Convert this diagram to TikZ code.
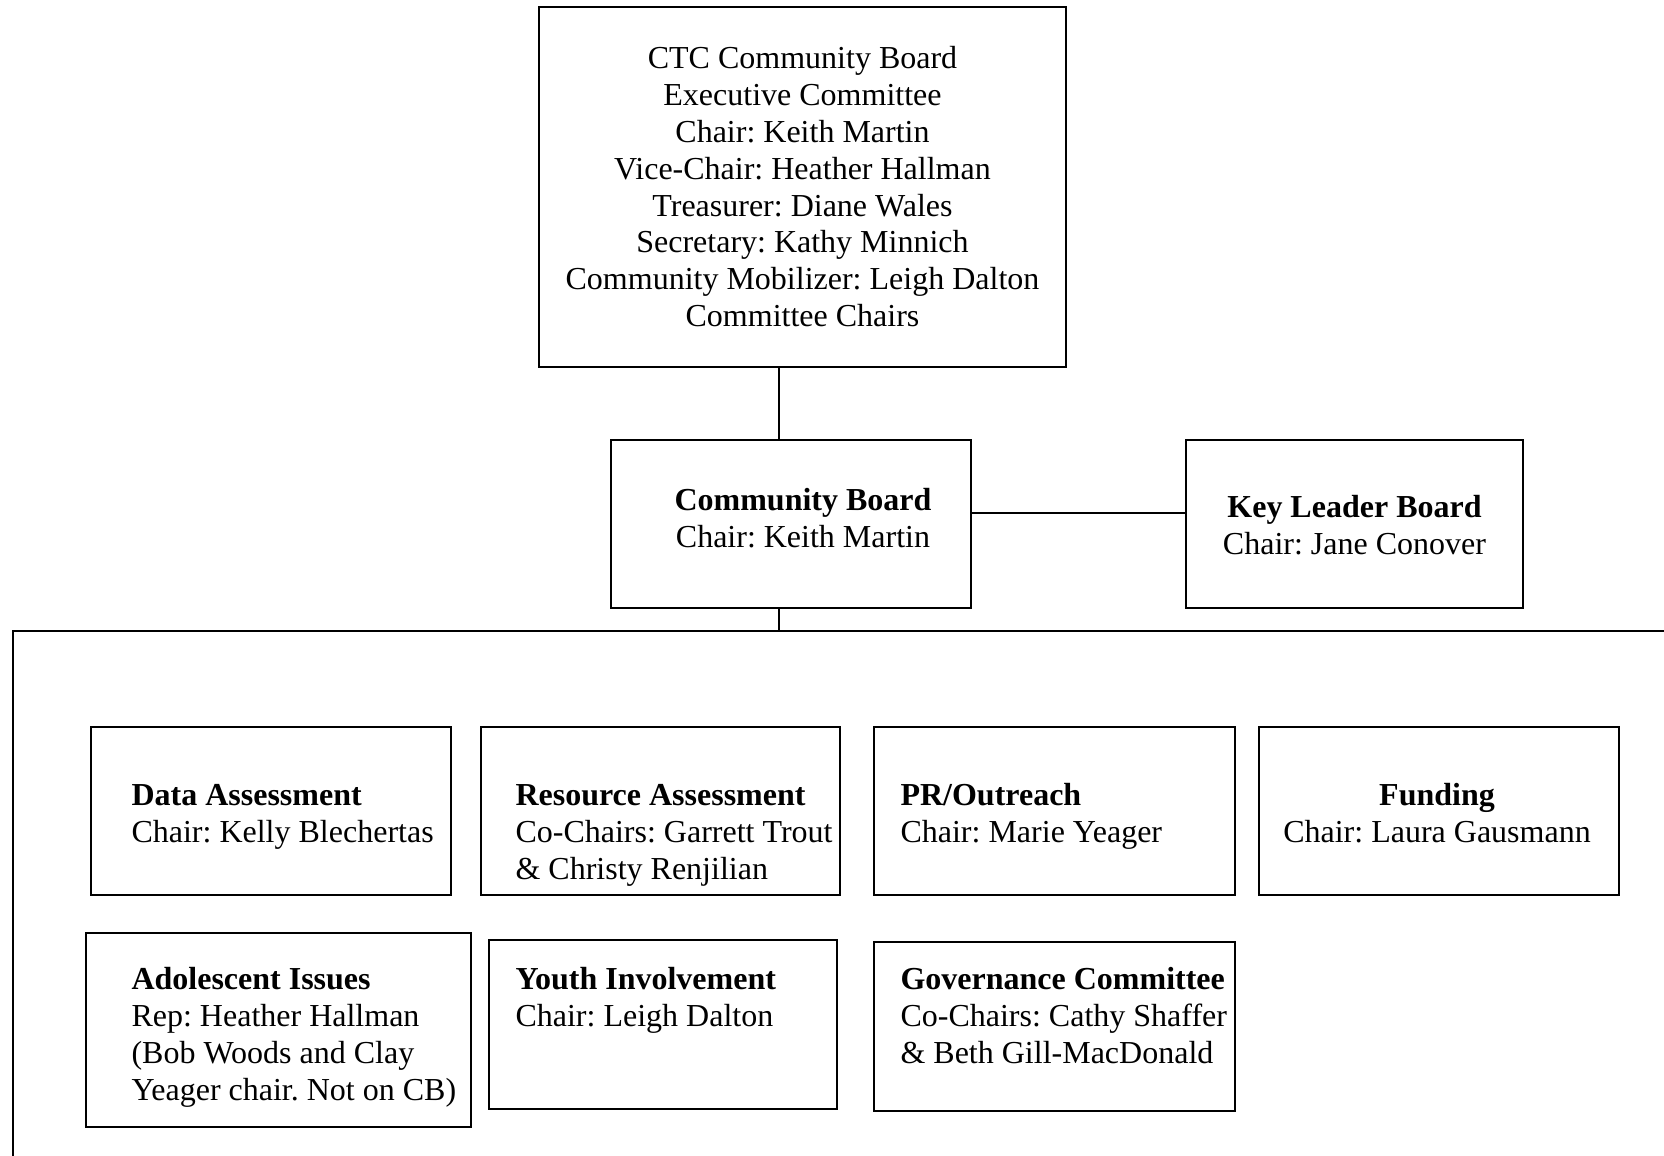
\documentclass[tikz,border=0pt]{standalone}
\usepackage{fontspec}
\setmainfont{Liberation Serif}
\frenchspacing
\begin{document}
\begin{tikzpicture}[x=0.375pt, y=-0.375pt,
  box/.style={draw, line width=0.8pt, inner sep=0pt, rectangle},
  txt/.style={inner sep=0pt, font=\fontsize{12pt}{13.8pt}\selectfont},
  txtl/.style={txt, anchor=north west, align=left},
  txtc/.style={txt, anchor=north, align=center},
  link/.style={line width=0.8pt}]
\useasboundingbox (0,0) rectangle (1664,1155);
\clip (0,0) rectangle (1664,1155);

% outer frame (runs off the right and bottom edges)
\node[box, anchor=north west, minimum width={1700*0.375pt}, minimum height={600*0.375pt}] (frame) at (12,630) {};

% boxes
\node[box, minimum width={527*0.375pt}, minimum height={360*0.375pt}] (top) at (802.5,187) {};
\node[box, minimum width={360*0.375pt}, minimum height={168*0.375pt}] (cb) at (791,524) {};
\node[box, minimum width={337*0.375pt}, minimum height={168*0.375pt}] (klb) at (1354.5,524) {};
\node[box, minimum width={360*0.375pt}, minimum height={168*0.375pt}] (da) at (271,811) {};
\node[box, minimum width={359*0.375pt}, minimum height={168*0.375pt}] (ra) at (660.5,811) {};
\node[box, minimum width={361*0.375pt}, minimum height={168*0.375pt}] (pr) at (1054.5,811) {};
\node[box, minimum width={360*0.375pt}, minimum height={168*0.375pt}] (fund) at (1439,811) {};
\node[box, minimum width={385*0.375pt}, minimum height={194*0.375pt}] (ado) at (278.5,1030) {};
\node[box, minimum width={348*0.375pt}, minimum height={169*0.375pt}] (yi) at (663,1024.5) {};
\node[box, minimum width={361*0.375pt}, minimum height={169*0.375pt}] (gov) at (1054.5,1026.5) {};

% texts
\node[txtc] (top-t) at (802.5,42.5) {\strut CTC Community Board\\Executive Committee\\Chair: Keith Martin\\Vice-Chair: Heather Hallman\\Treasurer: Diane Wales\\Secretary: Kathy Minnich\\Community Mobilizer: Leigh Dalton\\Committee Chairs};
\node[txtc] (cb-t) at (803,484.5) {\strut\textbf{Community Board}\\Chair: Keith Martin};
\node[txtc] (klb-t) at (1354.5,491.5) {\strut\textbf{Key Leader Board}\\Chair: Jane Conover};
\node[txtl] (da-t) at (131,779.5) {\strut\textbf{Data Assessment}\\Chair: Kelly Blechertas};
\node[txtl] (ra-t) at (515,779.5) {\strut\textbf{Resource Assessment}\\Co-Chairs: Garrett Trout\\\& Christy Renjilian};
\node[txtl] (pr-t) at (900,779.5) {\strut\textbf{PR/Outreach}\\Chair: Marie Yeager};
\node[txtc] (fund-t) at (1437,779.5) {\strut\textbf{Funding}\\Chair: Laura Gausmann};
\node[txtl] (ado-t) at (131,963.5) {\strut\textbf{Adolescent Issues}\\Rep: Heather Hallman\\(Bob Woods and Clay\\Yeager chair. Not on CB)};
\node[txtl] (yi-t) at (515,963.5) {\strut\textbf{Youth Involvement}\\Chair: Leigh Dalton};
\node[txtl] (gov-t) at (900,963.5) {\strut\textbf{Governance Committee}\\Co-Chairs: Cathy Shaffer\\\& Beth Gill-MacDonald};

% connectors
\coordinate (spine) at (779,0);
\coordinate (hline) at (0,513);
\draw[link] (top.south -| spine) -- (cb.north -| spine);
\draw[link] (cb.south -| spine) -- (frame.north -| spine);
\draw[link] (cb.east |- hline) -- (klb.west |- hline);
\end{tikzpicture}
\end{document}
